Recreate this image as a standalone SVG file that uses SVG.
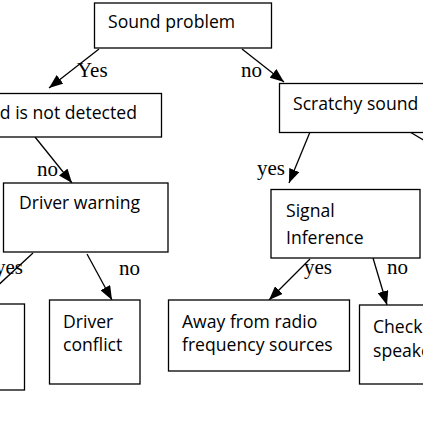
<svg xmlns="http://www.w3.org/2000/svg" width="423" height="423" viewBox="0 0 423 423">
<defs>
<marker id="ah" markerUnits="userSpaceOnUse" markerWidth="14" markerHeight="11" refX="14" refY="5.5" orient="auto">
<path d="M0,0 L14,5.5 L0,11 z" fill="#000"/>
</marker>
<style>
.box{fill:#fff;stroke:#000;stroke-width:1.3}
.t{font-family:"Open Sans","Liberation Sans",sans-serif;font-size:17.6px;fill:#000}
.l{font-family:"Liberation Serif","Times New Roman",serif;font-size:21px;fill:#000}
.c{stroke:#000;stroke-width:1.3;fill:none;marker-end:url(#ah)}
</style>
</defs>
<rect width="423" height="423" fill="#fff"/>
<g id="connectors">
<line class="c" x1="99" y1="49" x2="49" y2="88"/>
<line class="c" x1="242" y1="49" x2="284" y2="82"/>
<line class="c" x1="35" y1="137" x2="72" y2="183"/>
<line class="c" x1="310" y1="132" x2="289" y2="183"/>
<line class="c" x1="33" y1="253" x2="-20" y2="302"/>
<line class="c" x1="87" y1="254" x2="112" y2="300"/>
<line class="c" x1="410" y1="132" x2="450" y2="156"/>
<line class="c" x1="310" y1="259" x2="269" y2="300"/>
<line class="c" x1="373" y1="258" x2="387" y2="305"/>
</g>
<g id="labels">
<text class="l" x="77" y="77">Yes</text>
<text class="l" x="241" y="77">no</text>
<text class="l" x="37" y="176">no</text>
<text class="l" x="257" y="175">yes</text>
<text class="l" x="-5" y="274">yes</text>
<text class="l" x="119" y="275">no</text>
<text class="l" x="304" y="274">yes</text>
<text class="l" x="387" y="274">no</text>
</g>
<g id="n-sound-problem">
<rect class="box" x="94.5" y="3" width="177" height="45"/>
<text class="t" x="108" y="28">Sound problem</text>
</g>
<g id="n-not-detected">
<rect class="box" x="-20" y="93.5" width="181.5" height="43.5"/>
<text class="t" x="-42" y="119">Sound is not detected</text>
</g>
<g id="n-scratchy">
<rect class="box" x="279.5" y="83.5" width="160" height="49"/>
<text class="t" x="293" y="110">Scratchy sound</text>
</g>
<g id="n-driver-warning">
<rect class="box" x="3.5" y="183" width="164.5" height="69"/>
<text class="t" x="19" y="209">Driver warning</text>
</g>
<g id="n-signal">
<rect class="box" x="271" y="189.5" width="149" height="68.5"/>
<text class="t" x="286" y="217">Signal</text>
<text class="t" x="286" y="244">Inference</text>
</g>
<g id="n-left">
<rect class="box" x="-20" y="304" width="44.5" height="86"/>
</g>
<g id="n-driver-conflict">
<rect class="box" x="49.5" y="300" width="90.5" height="84"/>
<text class="t" x="63" y="328">Driver</text>
<text class="t" x="63" y="351">conflict</text>
</g>
<g id="n-away">
<rect class="box" x="168.5" y="300" width="181" height="71"/>
<text class="t" x="182" y="328">Away from radio</text>
<text class="t" x="182" y="351">frequency sources</text>
</g>
<g id="n-check">
<rect class="box" x="359.5" y="305" width="80" height="79"/>
<text class="t" x="373" y="333">Check</text>
<text class="t" x="373" y="357">speaker</text>
</g>
</svg>
